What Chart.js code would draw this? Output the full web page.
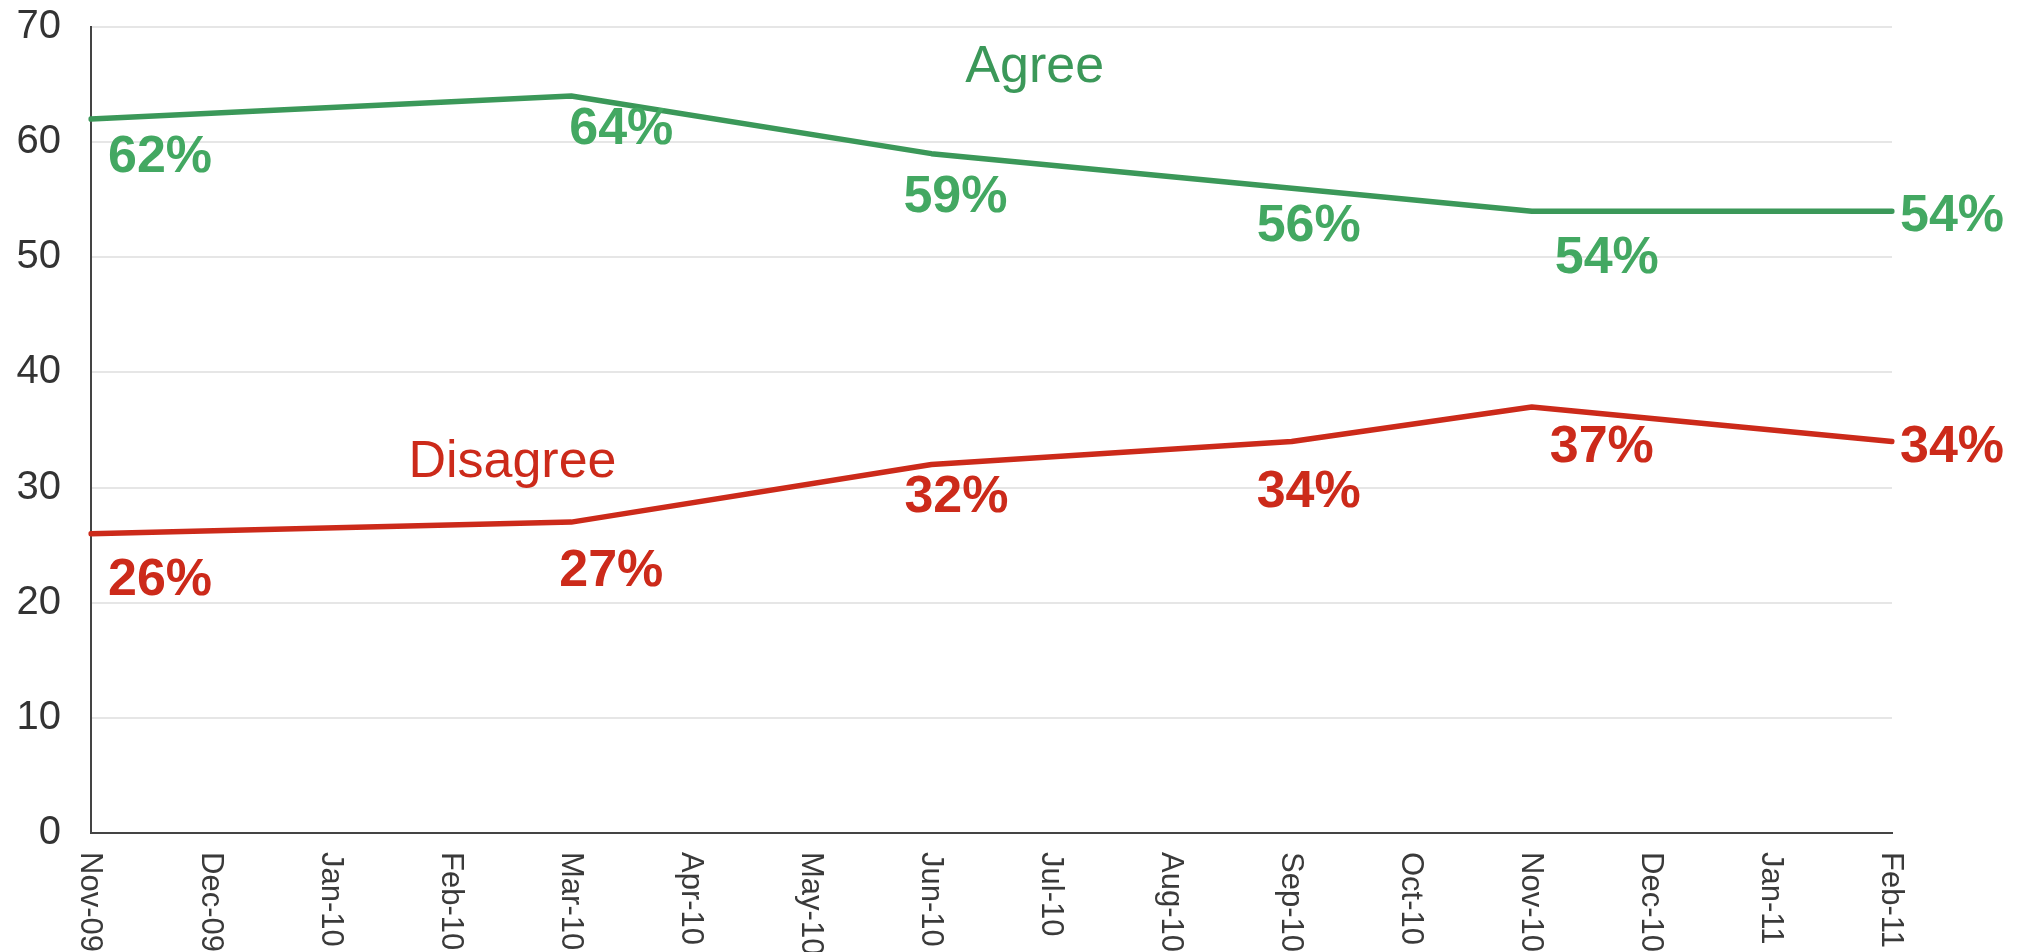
<!DOCTYPE html>
<html>
<head>
<meta charset="utf-8">
<style>
  html, body { margin: 0; padding: 0; background: #ffffff; }
  #wrap { width: 2029px; height: 952px; position: relative; }
</style>
<script src="https://cdn.jsdelivr.net/npm/chart.js@4/dist/chart.umd.min.js"></script>
</head>
<body>
<div id="wrap"><canvas id="c" width="2029" height="952"></canvas></div>
<script>
// ---- Data ----
const months = ["Nov-09","Dec-09","Jan-10","Feb-10","Mar-10","Apr-10","May-10","Jun-10","Jul-10","Aug-10","Sep-10","Oct-10","Nov-10","Dec-10","Jan-11","Feb-11"];
const agree    = [62, null, null, null, 64, null, null, 59, null, null, 56, null, 54, null, null, 54];
const disagree = [26, null, null, null, 27, null, null, 32, null, null, 34, null, 37, null, null, 34];
const yTicks = [0, 10, 20, 30, 40, 50, 60, 70];
const seriesNames = ["Agree", "Disagree"];

// ---- Styles / layout ----
const FONT = "'Liberation Sans', Arial, Helvetica, sans-serif";
const GREEN_LINE = "#3b9859", GREEN_TEXT = "#43a862";
const RED_LINE = "#cc2a1a", RED_TEXT = "#cc2a1a";
// label offsets (px) relative to each point: [dx, dy, align]
const agreeLabelOffsets = {0:[69,53,'center'],4:[50,48,'center'],7:[24,58,'center'],10:[17,53,'center'],12:[75,62,'center'],15:[8,20,'left']};
const disagreeLabelOffsets = {0:[69,61,'center'],4:[40,64,'center'],7:[25,47,'center'],10:[17,65,'center'],12:[70,55,'center'],15:[8,20,'left']};
// series name anchors in data space
const nameAnchors = [{x: 7.86, y: 65.2, color: GREEN_LINE}, {x: 3.51, y: 30.96, color: RED_TEXT}];

const labelPlugin = {
  id: 'customLabels',
  afterDraw(chart) {
    const ctx = chart.ctx;
    const xs = chart.scales.x, ys = chart.scales.y;
    ctx.save();
    // x tick labels, rotated clockwise
    ctx.fillStyle = "#3a3a3a";
    ctx.font = "31px " + FONT;
    ctx.textAlign = 'left';
    ctx.textBaseline = 'middle';
    months.forEach((m, i) => {
      const x = xs.getPixelForValue(i);
      ctx.save();
      ctx.translate(x - 1, chart.chartArea.bottom + 19);
      ctx.rotate(Math.PI / 2);
      ctx.fillText(m, 0, 0);
      ctx.restore();
    });
    // value labels
    const sets = [[agree, agreeLabelOffsets, GREEN_TEXT], [disagree, disagreeLabelOffsets, RED_TEXT]];
    ctx.font = "bold 52px " + FONT;
    ctx.textBaseline = 'alphabetic';
    sets.forEach(([vals, offs, col]) => {
      ctx.fillStyle = col;
      vals.forEach((v, i) => {
        if (v === null) return;
        const o = offs[i] || [0, 50, 'center'];
        ctx.textAlign = o[2];
        ctx.fillText(v + "%", xs.getPixelForValue(i) + o[0], ys.getPixelForValue(v) + o[1]);
      });
    });
    // series names
    ctx.font = "52px " + FONT;
    ctx.textAlign = 'center';
    nameAnchors.forEach((a, k) => {
      ctx.fillStyle = a.color;
      ctx.fillText(seriesNames[k], xs.getPixelForValue(a.x), ys.getPixelForValue(a.y));
    });
    ctx.restore();
  }
};

new Chart(document.getElementById('c'), {
  type: 'line',
  data: {
    labels: months,
    datasets: [
      { label: seriesNames[0], data: agree, borderColor: GREEN_LINE, borderWidth: 5.5, pointRadius: 0, tension: 0, spanGaps: true, borderCapStyle: 'round', borderJoinStyle: 'round' },
      { label: seriesNames[1], data: disagree, borderColor: RED_LINE, borderWidth: 5.5, pointRadius: 0, tension: 0, spanGaps: true, borderCapStyle: 'round', borderJoinStyle: 'round' }
    ]
  },
  options: {
    responsive: false,
    animation: false,
    devicePixelRatio: 1,
    layout: { padding: { top: 27, right: 137, bottom: 0, left: 0 } },
    plugins: { legend: { display: false }, tooltip: { enabled: false } },
    scales: {
      x: {
        type: 'category',
        offset: false,
        grid: { display: false, drawTicks: false },
        border: { display: true, color: '#444444', width: 2 },
        ticks: { display: false },
        afterFit: (s) => { s.height = 119; s.paddingLeft = 0; s.paddingRight = 0; }
      },
      y: {
        min: 0, max: 70,
        afterBuildTicks: (s) => { s.ticks = yTicks.map(v => ({ value: v })); },
        grid: { color: '#e6e6e6', lineWidth: 2, drawTicks: false },
        border: { display: true, color: '#444444', width: 2 },
        ticks: { color: '#333333', font: { family: FONT, size: 40 }, padding: 30 },
        afterFit: (s) => { s.width = 91; s.paddingTop = 0; s.paddingBottom = 0; }
      }
    }
  },
  plugins: [labelPlugin]
});
</script>
</body>
</html>
